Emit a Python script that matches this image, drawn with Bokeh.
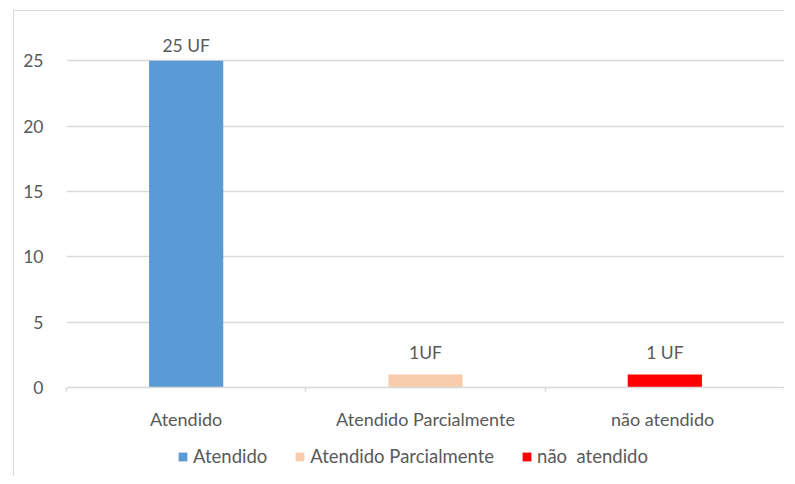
from bokeh.plotting import figure
from bokeh.models import Range1d, FixedTicker, Legend, LegendItem, ColumnDataSource
from bokeh.layouts import column
from bokeh.core.properties import value
from bokeh.embed import file_html
from bokeh.resources import INLINE

categories = ["Atendido", "Atendido Parcialmente", "não  atendido"]
counts = [25, 1, 1]
bar_labels = ["25 UF", "1UF", "1 UF"]
colors = ["#5b9bd5", "#f8cbad", "#ff0000"]
y_ticks = [0, 5, 10, 15, 20, 25]

FONT = "Lato"
FS = "17.5px"
FS_CAT = "18px"
FS_LEG = "18.5px"
TXT = "#595959"
GRID = "#d9d9d9"
Y_MAX = 28

xs = [i + 0.5 for i in range(len(categories))]

p = figure(width=770, height=425, output_backend="svg", toolbar_location=None,
           x_range=Range1d(0, len(categories)), y_range=Range1d(0, Y_MAX),
           min_border_left=52, min_border_right=0, min_border_top=10, min_border_bottom=49)
p.outline_line_color = None
p.background_fill_color = "white"
p.border_fill_color = "white"

for i, (c, v, col) in enumerate(zip(categories, counts, colors)):
    src = ColumnDataSource(dict(x=[xs[i]], top=[v], lab=[bar_labels[i]]))
    p.vbar(x="x", top="top", width=0.31, bottom=0, source=src,
           fill_color=col, line_color=None)
    gap = 5 if v > 0.8 * Y_MAX else 11
    p.text(x="x", y="top", text="lab", source=src, text_align="center",
           text_baseline="bottom", y_offset=-gap, text_font=value(FONT),
           text_font_size=FS, text_color=TXT)

# y axis
p.yaxis.ticker = FixedTicker(ticks=y_ticks)
p.yaxis.axis_line_color = None
p.yaxis.major_tick_line_color = None
p.yaxis.minor_tick_line_color = None
p.yaxis.major_label_text_font = FONT
p.yaxis.major_label_text_font_size = FS
p.yaxis.major_label_text_color = TXT
p.yaxis.major_label_standoff = 17

p.ygrid.ticker = FixedTicker(ticks=y_ticks)
p.ygrid.grid_line_color = GRID
p.ygrid.grid_line_width = 1.5
p.xgrid.grid_line_color = None

# x axis: labels at category centres, ticks at boundaries
p.xaxis.ticker = FixedTicker(ticks=xs, minor_ticks=list(range(len(categories) + 1)))
p.xaxis.major_label_overrides = {x: c for x, c in zip(xs, categories)}
p.xaxis.major_tick_line_color = None
p.xaxis.minor_tick_line_color = GRID
p.xaxis.minor_tick_line_width = 1.5
p.xaxis.minor_tick_in = 0
p.xaxis.minor_tick_out = 4
p.xaxis.axis_line_color = GRID
p.xaxis.axis_line_width = 1.5
p.xaxis.major_label_text_font = FONT
p.xaxis.major_label_text_font_size = FS_CAT
p.xaxis.major_label_text_color = TXT
p.xaxis.major_label_standoff = 14

# legend strip (its frame is aligned with the chart frame by the column)
pl = figure(width=770, height=40, output_backend="svg", toolbar_location=None,
            x_range=Range1d(0, 1), y_range=Range1d(0, 1),
            min_border_left=52, min_border_right=0, min_border_top=0, min_border_bottom=0)
pl.axis.visible = False
pl.grid.visible = False
pl.outline_line_color = None
pl.border_fill_color = "white"
pl.background_fill_color = "white"
items = []
for c, col in zip(categories, colors):
    # zero-height placeholder so that only the legend swatch is seen
    rr = pl.vbar(x=[0.5], bottom=[0], top=[0], width=0.0, fill_color=col, line_color=None)
    items.append(LegendItem(label=c, renderers=[rr]))
legend = Legend(items=items, orientation="horizontal", location=(111, 9),
                glyph_width=11, glyph_height=11, label_standoff=5, spacing=27,
                label_text_font=FONT, label_text_font_size=FS_LEG,
                label_text_color=TXT, border_line_color=None,
                background_fill_alpha=0, padding=0, margin=0)
pl.add_layout(legend, "center")

layout = column(p, pl, spacing=0)
layout.styles = {"margin-left": "13px", "margin-top": "10px",
                 "border-left": "1px solid #d9d9d9", "border-top": "1px solid #d9d9d9"}

open("out.html", "w").write(file_html(layout, INLINE))
